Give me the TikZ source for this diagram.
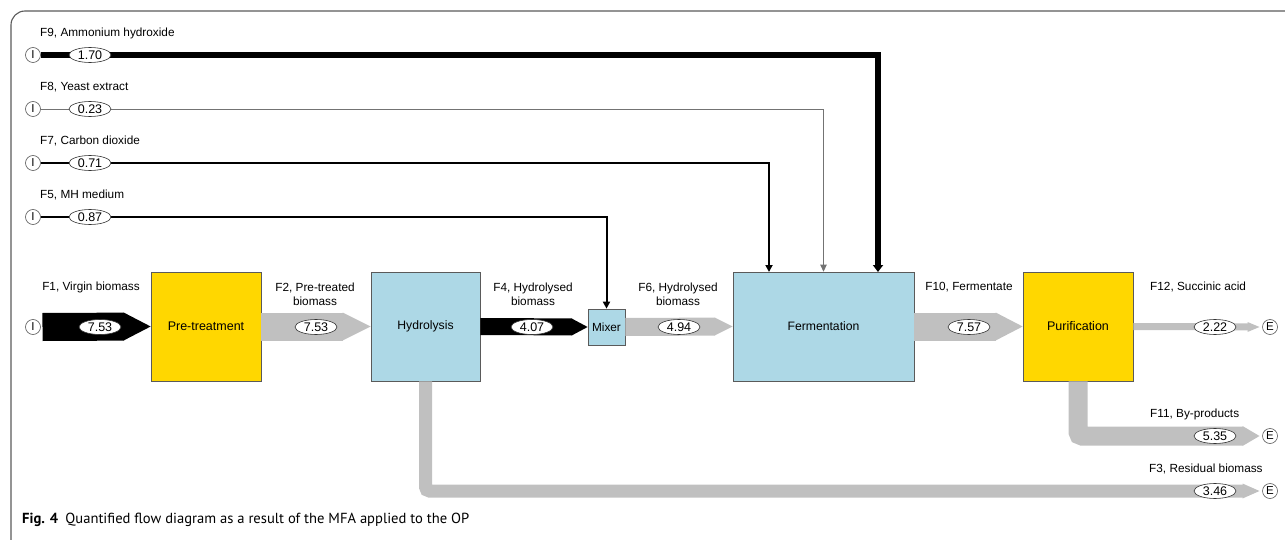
\documentclass[tikz,border=0pt]{standalone}
\usepackage{fontspec}
\setmainfont{Liberation Sans}
\newfontfamily\capfont{PT Sans}
\usetikzlibrary{shapes.geometric}
\usetikzlibrary{arrows.meta}
\usetikzlibrary{positioning}

\definecolor{boxgold}{HTML}{FFD700}
\definecolor{boxblue}{HTML}{ADD8E6}
\definecolor{flowgray}{HTML}{C0C0C0}
\definecolor{edgegray}{HTML}{5A5A5A}

% wide flow band with a flat arrow head: [path op]{from}{to}{half width}{head length}{head half}{colour}
\newcommand{\flowband}[7][--]{%
  \draw[#7, line width={2*#4pt}, shorten >={#5pt-0.4pt}, rounded corners=4pt] (#2) #1 (#3);
  \fill[#7] (#3) -- ++(-#5,-#6) -- ++(0,{2*#6}) -- cycle;}

\begin{document}
\begin{tikzpicture}[
    x=1pt, y=-1pt,
    font=\fontsize{11.8}{14}\selectfont
]
\tikzset{
    unitbox/.style = {rectangle, draw=edgegray, line width=0.7pt, inner sep=0pt, align=center},
    goldbox/.style = {unitbox, fill=boxgold, minimum width=110pt, minimum height=109pt, font=\fontsize{12.5}{14}\selectfont},
    bluebox/.style = {unitbox, fill=boxblue, minimum width=109pt, minimum height=109pt, font=\fontsize{12.2}{14}\selectfont},
    endpt/.style = {circle, draw=edgegray, line width=0.6pt, fill=white, minimum size=15pt, inner sep=0pt, font=\fontsize{11.5}{12}\selectfont},
    sinkpt/.style = {endpt, outer sep=3pt},
    value/.style = {ellipse, draw=black!80, line width=0.6pt, fill=white, minimum width=42pt, minimum height=15pt, inner sep=0pt, font=\fontsize{12.5}{13}\selectfont},
    flabel/.style = {align=center, inner sep=0pt},
    inflow/.style = {draw=black, line width=2pt, -{Triangle[length=7pt,width=7pt]}},
    thinflow/.style = {draw=black!55, line width=0.8pt, -{Triangle[length=7pt,width=6.5pt]}},
    fatflow/.style = {draw=black, line width=5.5pt, -{Triangle[length=7pt,width=10pt]}}
}
\useasboundingbox (0,0) rectangle (1285,540);
\draw[edgegray, line width=1.1pt, rounded corners=14pt] (1290,11) -- (11,11) -- (11,548);

% sources and sinks
\node[endpt] at (33,55) (i9) {I};
\node[endpt] at (33,109) (i8) {I};
\node[endpt] at (33,163) (i7) {I};
\node[endpt] at (33,217) (i5) {I};
\node[endpt, outer sep=2pt] at (33,327) (i1) {I};
\node[sinkpt] at (1270,327) (e12) {E};
\node[sinkpt] at (1270,436) (e11) {E};
\node[sinkpt] at (1270,491) (e3) {E};

% process units
\node[goldbox] at (206,326.5) (pre) {Pre-treatment};
\node[bluebox] at (425.5,326.5) (hyd) {Hydrolysis};
\node[unitbox, fill=boxblue, minimum width=37pt, minimum height=36pt] at (606.5,327) (mix) {Mixer};
\node[bluebox, minimum width=181pt] at (823.5,326.5) (fer) {Fermentation};
\node[goldbox] at (1078,326.5) (pur) {Purification};

\coordinate (f7in) at (769,272);
\coordinate (f9in) at (878,272);

% input lines
\draw[fatflow] (i9) -| (f9in);
\draw[thinflow] (i8) -| (fer.north);
\draw[inflow] (i7) -| (f7in);
\draw[inflow] (i5) -| (mix.north);

% mass flows
\flowband{i1.east}{pre.west}{14}{27}{14}{black}
\flowband{pre.east}{hyd.west}{14}{28}{14}{flowgray}
\flowband{hyd.east}{mix.west}{8.5}{16}{8.5}{black}
\flowband{mix.east}{fer.west}{9}{18}{9}{flowgray}
\flowband{fer.east}{pur.west}{14}{27}{14}{flowgray}
\flowband{pur.east}{e12.west}{3.5}{12}{5}{flowgray}
\flowband[|-]{pur.south}{e11.west}{9.5}{17}{10}{flowgray}
\flowband[|-]{hyd.south}{e3.west}{6.5}{17}{7.5}{flowgray}

% flow values
\node[value] at (90,55) (v9) {1.70};
\node[value] at (90,109) (v8) {0.23};
\node[value] at (90,163) (v7) {0.71};
\node[value] at (90,217) (v5) {0.87};
\node[value] at (100,327) (v1) {7.53};
\node[value] at (316,327) (v2) {7.53};
\node[value] at (532,327) (v4) {4.07};
\node[value] at (679,327) (v6) {4.94};
\node[value] at (969,327) (v10) {7.57};
\node[value] at (1215,327) (v12) {2.22};
\node[value] at (1215,436) (v11) {5.35};
\node[value] at (1215,491) (v3) {3.46};

% flow names
\node[flabel, anchor=west] at (40,33) (l9) {F9, Ammonium hydroxide};
\node[flabel, anchor=west] at (40,87) (l8) {F8, Yeast extract};
\node[flabel, anchor=west] at (40,141) (l7) {F7, Carbon dioxide};
\node[flabel, anchor=west] at (40,195) (l5) {F5, MH medium};
\node[flabel] at (91,287) (l1) {F1, Virgin biomass};
\node[flabel] at (315,294) (l2) {F2, Pre-treated\\biomass};
\node[flabel] at (533,294) (l4) {F4, Hydrolysed\\biomass};
\node[flabel] at (678,294) (l6) {F6, Hydrolysed\\biomass};
\node[flabel] at (969,287) (l10) {F10, Fermentate};
\node[flabel, anchor=west] at (1150,287) (l12) {F12, Succinic acid};
\node[flabel, anchor=west] at (1150,414) (l11) {F11, By-products};
\node[flabel, anchor=west] at (1149,469) (l3) {F3, Residual biomass};

\node[anchor=west, inner sep=0pt, font=\capfont\fontsize{14.6}{16}\selectfont] at (22,520) (cap)
    {\textbf{Fig. 4}\enspace Quantified flow diagram as a result of the MFA applied to the OP};
\end{tikzpicture}
\end{document}
